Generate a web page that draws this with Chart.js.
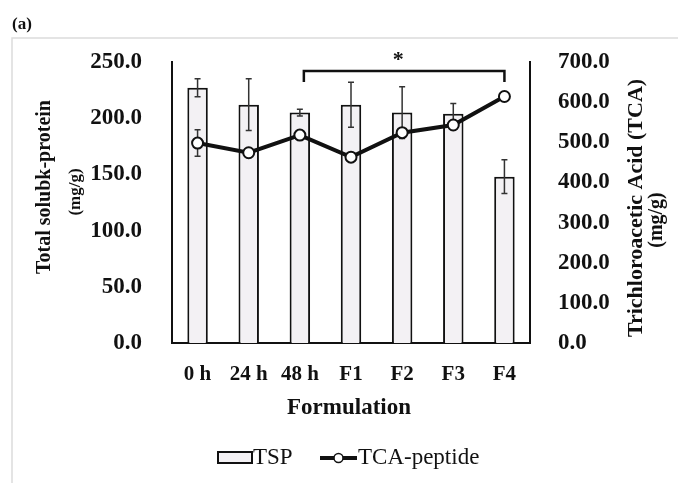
<!DOCTYPE html>
<html>
<head>
<meta charset="utf-8">
<script src="https://cdn.jsdelivr.net/npm/chart.js@4"></script>
<style>
  html, body { margin: 0; padding: 0; background: #fff; }
  #wrap { width: 678px; height: 483px; }
</style>
</head>
<body>
<div id="wrap"><canvas id="chart" width="678" height="483"></canvas></div>
<script>
const categories = ["0 h", "24 h", "48 h", "F1", "F2", "F3", "F4"];
const tsp = [227, 212, 205, 212, 205, 204, 148];
const tspErr = [8, 23, 3, 20, 23, 9, 15];
const tcaPeptide = [498, 474, 518, 463, 524, 543, 614];
const tcaErr = [33, 0, 8, 0, 0, 0, 0];
const leftTicks = [0, 50, 100, 150, 200, 250];
const rightTicks = [0, 100, 200, 300, 400, 500, 600, 700];

const serif = "'Liberation Serif', 'Times New Roman', serif";

function errBar(ctx, x, yTop, yBot, cap) {
    ctx.beginPath();
    ctx.moveTo(x, yTop); ctx.lineTo(x, yBot);
    ctx.moveTo(x - cap, yTop); ctx.lineTo(x + cap, yTop);
    ctx.moveTo(x - cap, yBot); ctx.lineTo(x + cap, yBot);
    ctx.stroke();
}

function rotText(ctx, text, x, y, font) {
    ctx.save();
    ctx.translate(x, y);
    ctx.rotate(-Math.PI / 2);
    ctx.font = font;
    ctx.textAlign = "center";
    ctx.textBaseline = "middle";
    ctx.fillText(text, 0, 0);
    ctx.restore();
}

const decor = {
    id: "decor",
    beforeDraw(chart) {
        const ctx = chart.ctx;
        ctx.save();
        ctx.fillStyle = "#fff";
        ctx.fillRect(0, 0, chart.width, chart.height);
        ctx.strokeStyle = "#dcdcdc";
        ctx.lineWidth = 1.5;
        ctx.beginPath();
        ctx.moveTo(12, chart.height);
        ctx.lineTo(12, 38);
        ctx.lineTo(chart.width, 38);
        ctx.stroke();
        ctx.fillStyle = "#111";
        ctx.font = "bold 17px " + serif;
        ctx.textBaseline = "middle";
        ctx.fillText("(a)", 12, 25);
        ctx.restore();
    },
    afterDatasetDraw(chart, args) {
        if (args.index !== 0) return;
        const ctx = chart.ctx;
        const x = chart.scales.x, y = chart.scales.y, y1 = chart.scales.y1;
        ctx.save();
        ctx.strokeStyle = "#333";
        ctx.lineWidth = 1.5;
        tsp.forEach((v, i) => {
            const cx = x.getPixelForValue(i);
            errBar(ctx, cx, y.getPixelForValue(v + tspErr[i]), y.getPixelForValue(v - tspErr[i]), 3);
        });
        tcaPeptide.forEach((v, i) => {
            if (!tcaErr[i]) return;
            const cx = x.getPixelForValue(i);
            errBar(ctx, cx, y1.getPixelForValue(v + tcaErr[i]), y1.getPixelForValue(v - tcaErr[i]), 3);
        });
        ctx.restore();
    },
    afterDraw(chart) {
        const ctx = chart.ctx;
        const x = chart.scales.x;
        const area = chart.chartArea;
        ctx.save();
        ctx.fillStyle = "#111";
        ctx.strokeStyle = "#111";

        // significance bracket 48 h .. F4
        const xa = x.getPixelForValue(2) + 4, xb = x.getPixelForValue(6);
        ctx.lineWidth = 2.5;
        ctx.beginPath();
        ctx.moveTo(xa, 82); ctx.lineTo(xa, 71); ctx.lineTo(xb, 71); ctx.lineTo(xb, 82);
        ctx.stroke();
        ctx.font = "bold 22px " + serif;
        ctx.textAlign = "center";
        ctx.textBaseline = "middle";
        ctx.fillText("*", (xa + xb) / 2 - 6, 60);

        // axis titles
        rotText(ctx, "Total solubk-protein", 45, 187, "bold 20px " + serif);
        rotText(ctx, "(mg/g)", 76, 192, "bold 17px " + serif);
        rotText(ctx, "Trichloroacetic Acid (TCA)", 636, 208, "bold 22px " + serif);
        rotText(ctx, "(mg/g)", 657, 220, "bold 20px " + serif);

        ctx.font = "bold 23px " + serif;
        ctx.textAlign = "center";
        ctx.fillText("Formulation", (area.left + area.right) / 2 - 2, 408);

        // legend
        ctx.fillStyle = "#f3f1f4";
        ctx.fillRect(218, 452, 34, 11);
        ctx.lineWidth = 2;
        ctx.strokeRect(218, 452, 34, 11);
        ctx.fillStyle = "#111";
        ctx.font = "23px " + serif;
        ctx.textAlign = "left";
        ctx.fillText("TSP", 253, 458);
        ctx.lineWidth = 4;
        ctx.beginPath();
        ctx.moveTo(320, 458); ctx.lineTo(357, 458);
        ctx.stroke();
        ctx.fillStyle = "#fff";
        ctx.lineWidth = 1.5;
        ctx.beginPath();
        ctx.arc(338.5, 458, 4.5, 0, Math.PI * 2);
        ctx.fill(); ctx.stroke();
        ctx.fillStyle = "#111";
        ctx.fillText("TCA-peptide", 358, 458);
        ctx.restore();
    }
};

new Chart(document.getElementById("chart"), {
    data: {
        labels: categories,
        datasets: [
            {
                type: "bar",
                label: "TSP",
                data: tsp,
                yAxisID: "y",
                backgroundColor: "#f3f1f4",
                borderColor: "#111",
                borderWidth: 2,
                barPercentage: 0.4,
                categoryPercentage: 1,
                order: 2
            },
            {
                type: "line",
                label: "TCA-peptide",
                data: tcaPeptide,
                yAxisID: "y1",
                borderColor: "#111",
                borderWidth: 4,
                pointRadius: 5.5,
                pointBorderWidth: 2,
                pointBackgroundColor: "#fff",
                pointBorderColor: "#111",
                tension: 0,
                order: 1
            }
        ]
    },
    options: {
        responsive: false,
        animation: false,
        layout: { padding: { top: 62, left: 0, right: 0, bottom: 0 } },
        plugins: { legend: { display: false }, tooltip: { enabled: false } },
        scales: {
            x: {
                offset: true,
                border: { color: "#111", width: 2 },
                grid: { display: false },
                ticks: { color: "#111", padding: 11, font: { family: serif, size: 21, weight: "bold" } },
                afterFit(s) { s.height = 140; }
            },
            y: {
                position: "left",
                min: 0, max: 250,
                border: { color: "#111", width: 2 },
                grid: { display: false },
                afterBuildTicks(s) { s.ticks = leftTicks.map(v => ({ value: v })); },
                ticks: {
                    color: "#111", padding: 22,
                    font: { family: serif, size: 23, weight: "bold" },
                    callback: v => Number(v).toFixed(1)
                },
                afterFit(s) { s.width = 172; }
            },
            y1: {
                position: "right",
                min: 0, max: 700,
                border: { color: "#111", width: 2 },
                grid: { display: false },
                afterBuildTicks(s) { s.ticks = rightTicks.map(v => ({ value: v })); },
                ticks: {
                    color: "#111", padding: 20,
                    font: { family: serif, size: 23, weight: "bold" },
                    callback: v => Number(v).toFixed(1)
                },
                afterFit(s) { s.width = 148; }
            }
        }
    },
    plugins: [decor]
});
</script>
</body>
</html>
